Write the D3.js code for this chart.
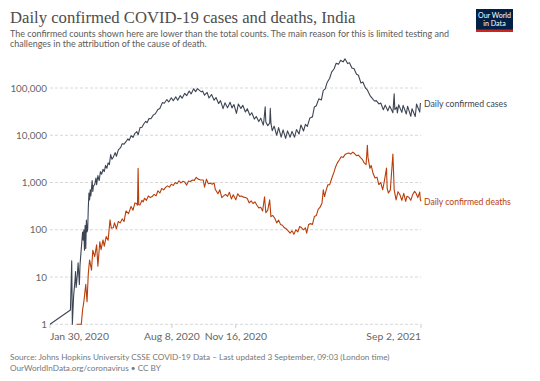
<!DOCTYPE html>
<html><head><meta charset="utf-8">
<script src="https://cdn.jsdelivr.net/npm/d3@7"></script>
<style>
html,body{margin:0;padding:0;background:#fff;}
svg{display:block;}
</style></head>
<body>
<svg id="chart" width="540" height="381"></svg>
<script>
const title = "Daily confirmed COVID-19 cases and deaths, India";
const subtitleLines = [
  "The confirmed counts shown here are lower than the total counts. The main reason for this is limited testing and",
  "challenges in the attribution of the cause of death."
];
const footerLines = [
  "Source: Johns Hopkins University CSSE COVID-19 Data – Last updated 3 September, 09:03 (London time)",
  "OurWorldInData.org/coronavirus • CC BY"
];
const seriesNames = ["Daily confirmed cases", "Daily confirmed deaths"];
const yTicks = [1, 10, 100, 1000, 10000, 100000];
const xTicks = ["2020-01-30", "2020-08-08", "2020-11-16", "2021-09-02"];
const xTickLabels = ["Jan 30, 2020", "Aug 8, 2020", "Nov 16, 2020", "Sep 2, 2021"];

const cases = [
["2020-01-30",1],["2020-03-02",2],["2020-03-04",22],["2020-03-05",1],["2020-03-07",4],["2020-03-09",8],
["2020-03-10",13],["2020-03-11",6],["2020-03-13",12],["2020-03-14",20],["2020-03-16",7],["2020-03-17",18],
["2020-03-19",40],["2020-03-20",60],["2020-03-21",90],["2020-03-22",60],["2020-03-23",100],["2020-03-24",37],
["2020-03-25",125],["2020-03-26",40],["2020-03-27",160],["2020-03-28",90],["2020-03-29",100],["2020-03-30",300],
["2020-03-31",600],["2020-04-01",430],["2020-04-02",700],["2020-04-03",520],["2020-04-05",1100],["2020-04-06",650],
["2020-04-07",850],["2020-04-09",900],["2020-04-11",1250],["2020-04-12",900],["2020-04-14",1400],["2020-04-16",1100],
["2020-04-18",1700],["2020-04-20",1500],["2020-04-22",1900],["2020-04-24",1700],["2020-04-26",2300],["2020-04-28",2000],
["2020-04-30",2600],["2020-05-02",2400],["2020-05-04",3900],["2020-05-06",3100],["2020-05-08",3400],["2020-05-11",4300],
["2020-05-13",3600],["2020-05-16",4900],["2020-05-18",5200],["2020-05-20",5600],["2020-05-22",6600],["2020-05-25",6500],
["2020-05-28",7300],["2020-05-31",8400],["2020-06-02",7800],["2020-06-05",9800],["2020-06-08",9000],["2020-06-11",11000],
["2020-06-14",11900],["2020-06-16",10200],["2020-06-19",14500],["2020-06-22",14800],["2020-06-25",17500],["2020-06-28",19700],
["2020-06-30",18400],["2020-07-03",22700],["2020-07-06",22300],["2020-07-10",27000],["2020-07-13",28400],["2020-07-17",35000],
["2020-07-20",37000],["2020-07-24",49000],["2020-07-27",47700],["2020-07-31",57000],["2020-08-03",50600],["2020-08-07",62000],
["2020-08-10",53600],["2020-08-14",65000],["2020-08-17",55000],["2020-08-21",69000],["2020-08-24",61000],["2020-08-28",77000],
["2020-08-31",69000],["2020-09-04",86000],["2020-09-07",75000],["2020-09-11",96500],["2020-09-14",83800],["2020-09-17",96800],
["2020-09-21",86900],["2020-09-23",83000],["2020-09-25",86000],["2020-09-28",70500],["2020-10-02",81000],["2020-10-05",61300],
["2020-10-09",73000],["2020-10-13",55300],["2020-10-16",63000],["2020-10-20",46800],["2020-10-23",54000],["2020-10-27",36500],
["2020-10-30",48600],["2020-11-03",38000],["2020-11-07",50000],["2020-11-10",38000],["2020-11-13",44800],["2020-11-17",29000],
["2020-11-20",46000],["2020-11-24",37000],["2020-11-27",43000],["2020-12-01",31000],["2020-12-04",36500],["2020-12-08",26500],
["2020-12-11",30000],["2020-12-15",22000],["2020-12-18",25000],["2020-12-22",19500],["2020-12-25",23000],["2020-12-29",16400],
["2020-12-30",20500],["2021-01-01",40000],["2021-01-02",19000],["2021-01-05",16000],["2021-01-08",18000],["2021-01-09",37000],
["2021-01-10",18000],["2021-01-12",12500],["2021-01-15",15600],["2021-01-19",10000],["2021-01-22",14500],["2021-01-26",9100],
["2021-01-29",13000],["2021-02-02",8600],["2021-02-05",12400],["2021-02-09",9100],["2021-02-12",12100],["2021-02-16",9100],
["2021-02-19",13200],["2021-02-23",10600],["2021-02-26",16500],["2021-03-02",12300],["2021-03-05",17000],["2021-03-08",15400],
["2021-03-12",23300],["2021-03-16",24500],["2021-03-19",39700],["2021-03-22",42000],["2021-03-26",59000],["2021-03-30",56000],
["2021-04-02",89000],["2021-04-05",96000],["2021-04-08",131000],["2021-04-12",161000],["2021-04-15",217000],["2021-04-19",256000],
["2021-04-22",332000],["2021-04-26",320000],["2021-04-29",386000],["2021-05-03",357000],["2021-05-06",414000],["2021-05-10",329000],
["2021-05-13",343000],["2021-05-17",263000],["2021-05-20",259000],["2021-05-24",196000],["2021-05-27",186000],["2021-05-31",127000],
["2021-06-03",134000],["2021-06-07",100000],["2021-06-10",91000],["2021-06-14",70000],["2021-06-17",62000],["2021-06-21",53000],
["2021-06-24",54000],["2021-06-28",46000],["2021-07-01",48000],["2021-07-05",34700],["2021-07-08",43400],["2021-07-12",32900],
["2021-07-15",41800],["2021-07-20",30100],["2021-07-22",75000],["2021-07-23",35000],["2021-07-26",39400],["2021-07-27",29700],
["2021-07-29",44200],["2021-08-03",30500],["2021-08-05",42900],["2021-08-10",28200],["2021-08-12",41200],["2021-08-17",25200],
["2021-08-19",36500],["2021-08-24",25000],["2021-08-26",46000],["2021-08-31",30900],["2021-09-01",47000],["2021-09-02",47000]
];

const deaths = [
["2020-03-12",1],["2020-03-19",1],["2020-03-21",2],["2020-03-23",3],["2020-03-26",7],["2020-03-28",3],
["2020-03-30",12],["2020-04-01",23],["2020-04-04",14],["2020-04-06",37],["2020-04-09",27],["2020-04-12",48],
["2020-04-14",17],["2020-04-17",56],["2020-04-19",38],["2020-04-22",61],["2020-04-24",45],["2020-04-27",72],
["2020-04-30",60],["2020-05-03",162],["2020-05-05",108],["2020-05-08",110],["2020-05-10",140],["2020-05-13",105],
["2020-05-16",150],["2020-05-19",140],["2020-05-22",170],["2020-05-25",150],["2020-05-28",250],["2020-06-01",220],
["2020-06-05",312],["2020-06-08",260],["2020-06-11",370],["2020-06-13",365],["2020-06-15",330],["2020-06-16",2003],
["2020-06-17",340],["2020-06-19",336],["2020-06-22",420],["2020-06-24",390],["2020-06-26",465],["2020-06-29",420],
["2020-07-02",520],["2020-07-05",480],["2020-07-08",505],["2020-07-11",560],["2020-07-14",520],["2020-07-17",670],
["2020-07-20",600],["2020-07-23",750],["2020-07-26",700],["2020-07-29",790],["2020-08-01",850],["2020-08-04",800],
["2020-08-07",920],["2020-08-10",870],["2020-08-13",1000],["2020-08-16",940],["2020-08-19",1090],["2020-08-22",980],
["2020-08-25",1060],["2020-08-28",1020],["2020-08-31",880],["2020-09-03",1080],["2020-09-06",1050],["2020-09-09",1130],
["2020-09-12",1110],["2020-09-15",1290],["2020-09-18",1180],["2020-09-21",1140],["2020-09-24",1130],["2020-09-26",1130],
["2020-09-28",800],["2020-10-01",1180],["2020-10-04",940],["2020-10-07",970],["2020-10-10",920],["2020-10-13",980],
["2020-10-15",700],["2020-10-16",680],["2020-10-19",580],["2020-10-22",700],["2020-10-25",480],["2020-10-28",520],
["2020-10-31",560],["2020-11-03",510],["2020-11-06",620],["2020-11-09",450],["2020-11-12",550],["2020-11-16",430],
["2020-11-19",580],["2020-11-22",510],["2020-11-25",520],["2020-11-28",490],["2020-12-01",480],["2020-12-04",460],
["2020-12-07",370],["2020-12-10",410],["2020-12-13",360],["2020-12-16",390],["2020-12-19",330],["2020-12-22",290],
["2020-12-25",300],["2020-12-28",250],["2020-12-31",500],["2021-01-02",230],["2021-01-05",260],["2021-01-08",430],
["2021-01-10",190],["2021-01-13",200],["2021-01-16",175],["2021-01-19",140],["2021-01-22",160],["2021-01-25",130],
["2021-01-28",125],["2021-01-31",110],["2021-02-03",105],["2021-02-06",95],["2021-02-09",85],["2021-02-12",95],
["2021-02-15",80],["2021-02-18",100],["2021-02-21",90],["2021-02-24",117],["2021-02-27",110],["2021-03-02",100],
["2021-03-05",110],["2021-03-07",85],["2021-03-10",130],["2021-03-13",135],["2021-03-16",130],["2021-03-19",190],
["2021-03-22",200],["2021-03-25",270],["2021-03-28",300],["2021-03-31",370],["2021-04-02",700],["2021-04-04",505],
["2021-04-06",650],["2021-04-09",890],["2021-04-12",900],["2021-04-15",1200],["2021-04-19",1700],["2021-04-21",2100],
["2021-04-24",2600],["2021-04-27",3000],["2021-04-30",3500],["2021-05-03",3400],["2021-05-06",3900],["2021-05-09",4100],
["2021-05-12",4200],["2021-05-15",4000],["2021-05-18",4400],["2021-05-21",4100],["2021-05-24",3700],["2021-05-27",3800],
["2021-05-30",3400],["2021-06-02",3100],["2021-06-05",2600],["2021-06-08",2400],["2021-06-10",6148],["2021-06-11",3400],
["2021-06-14",2000],["2021-06-16",2300],["2021-06-19",1550],["2021-06-22",1250],["2021-06-25",1300],["2021-06-28",900],
["2021-07-01",1000],["2021-07-04",700],["2021-07-07",1150],["2021-07-10",2020],["2021-07-11",750],["2021-07-13",600],
["2021-07-16",700],["2021-07-20",3998],["2021-07-22",700],["2021-07-25",430],["2021-07-28",640],["2021-07-31",550],
["2021-08-03",420],["2021-08-06",590],["2021-08-09",400],["2021-08-11",510],["2021-08-14",490],["2021-08-17",420],
["2021-08-20",560],["2021-08-23",650],["2021-08-25",600],["2021-08-28",480],["2021-08-31",630],["2021-09-01",430],
["2021-09-02",400]
];

const colors = ["#3d4555", "#b83e0c"];
const parse = d3.timeParse("%Y-%m-%d");
const svg = d3.select("#chart");

const x = d3.scaleTime().domain([parse("2020-01-30"), parse("2021-09-02")]).range([50, 421]);
const y = d3.scaleLog().domain([1, 100000]).range([324.3, 88]);

// scale a text so that its rendered width equals the target width
function fitSize(sel, target) {
  const node = sel.node();
  const fs = +sel.attr("font-size");
  const w = node.getComputedTextLength();
  const nfs = fs * target / w;
  sel.attr("font-size", nfs);
  return nfs;
}

// title
const t = svg.append("text").attr("x", 10).attr("y", 23)
  .attr("font-family", "Liberation Serif, DejaVu Serif, serif").attr("font-size", 19)
  .attr("fill", "#4d4d4d").text(title);
fitSize(t, 346);

const subs = svg.selectAll("text.sub").data(subtitleLines).enter().append("text")
  .attr("class", "sub").attr("x", 10).attr("y", (d, i) => 36.5 + i * 10.5)
  .attr("font-family", "Lato, sans-serif").attr("font-size", 10)
  .attr("fill", "#5b5b5b").text(d => d);
const subFs = fitSize(d3.select(subs.nodes()[0]), 440);
subs.attr("font-size", subFs);

// logo
const logo = svg.append("g");
logo.append("rect").attr("x", 476).attr("y", 9).attr("width", 37).attr("height", 23).attr("fill", "#002147");
logo.append("rect").attr("x", 476).attr("y", 29.5).attr("width", 37).attr("height", 2.5).attr("fill", "#ce261e");
const lt = logo.selectAll("text").data(["Our World", "in Data"]).enter().append("text")
  .attr("x", 494.5).attr("y", (d, i) => 18 + i * 7.8).attr("text-anchor", "middle")
  .attr("font-family", "Lato, sans-serif").attr("font-size", 7).attr("fill", "#fff").text(d => d);
const logoFs = fitSize(d3.select(lt.nodes()[0]), 33);
lt.attr("font-size", logoFs);

// grid
svg.append("g").selectAll("line").data(yTicks).enter().append("line")
  .attr("x1", 50).attr("x2", 421).attr("y1", d => y(d)).attr("y2", d => y(d))
  .attr("stroke", "#d8d8d8").attr("stroke-width", 1).attr("stroke-dasharray", "3,2");

const yl = svg.append("g").selectAll("text").data(yTicks).enter().append("text")
  .attr("x", 47).attr("y", d => y(d) + 3.5).attr("text-anchor", "end")
  .attr("font-family", "Lato, sans-serif").attr("font-size", 10).attr("fill", "#666")
  .text(d => d3.format(",")(d));
const yFs = fitSize(d3.select(yl.nodes()[yTicks.length - 1]), 36.7);
yl.attr("font-size", yFs);

// x ticks
const xt = svg.append("g");
xt.selectAll("line").data(xTicks).enter().append("line")
  .attr("x1", d => x(parse(d))).attr("x2", d => x(parse(d)))
  .attr("y1", 324.3).attr("y2", 328).attr("stroke", "#ccc");
const xl = xt.selectAll("text").data(xTicks).enter().append("text")
  .attr("x", d => x(parse(d))).attr("y", 340)
  .attr("text-anchor", (d, i) => i === 0 ? "start" : (i === xTicks.length - 1 ? "end" : "middle"))
  .attr("font-family", "Lato, sans-serif").attr("font-size", 10).attr("fill", "#666")
  .text((d, i) => xTickLabels[i]);
const xFs = fitSize(d3.select(xl.nodes()[0]), 59);
xl.attr("font-size", xFs);

// lines
const line = d3.line().x(d => x(parse(d[0]))).y(d => y(d[1]));
const labelW = [83, 87];
[cases, deaths].forEach((s, i) => {
  svg.append("path").datum(s).attr("d", line).attr("fill", "none")
    .attr("stroke", colors[i]).attr("stroke-width", 1.1).attr("stroke-linejoin", "round");
  const last = s[s.length - 1];
  const lab = svg.append("text").attr("x", x(parse(last[0])) + 3).attr("y", y(last[1]) + 3.5)
    .attr("font-family", "Lato, sans-serif").attr("font-size", 10).attr("fill", colors[i])
    .text(seriesNames[i]);
  fitSize(lab, labelW[i]);
});

// footer
const foot = svg.selectAll("text.foot").data(footerLines).enter().append("text")
  .attr("class", "foot").attr("x", 10).attr("y", (d, i) => 360 + i * 10.5)
  .attr("font-family", "Lato, sans-serif").attr("font-size", 8.5)
  .attr("fill", "#777").text(d => d);
const footFs = fitSize(d3.select(foot.nodes()[0]), 380);
foot.attr("font-size", footFs);
</script>
</body></html>
